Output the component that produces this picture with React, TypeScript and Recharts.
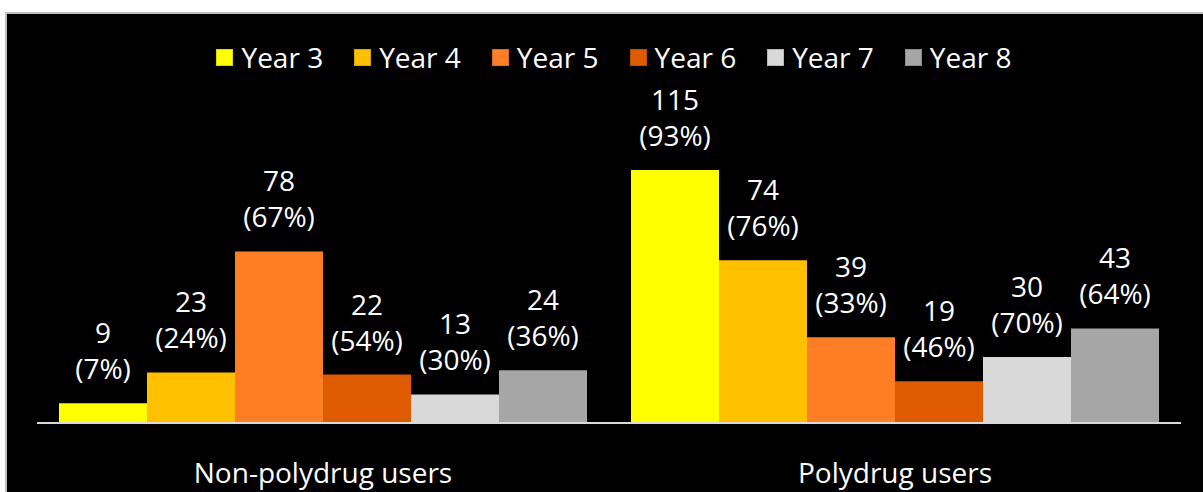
import React from 'react';
import { BarChart, Bar, XAxis, YAxis, Legend, LabelList } from 'recharts';

const categories = ['Non-polydrug users', 'Polydrug users'];
const seriesNames = ['Year 3', 'Year 4', 'Year 5', 'Year 6', 'Year 7', 'Year 8'];
const seriesColors = ['#FFFF00', '#FFC000', '#FD7E25', '#DE5B02', '#D9D9D9', '#A6A6A6'];

// counts per category, one array per year
const year3 = [9, 115];
const year4 = [23, 74];
const year5 = [78, 39];
const year6 = [22, 19];
const year7 = [13, 30];
const year8 = [24, 43];

// percentages per category
const year3Pct = [7, 93];
const year4Pct = [24, 76];
const year5Pct = [67, 33];
const year6Pct = [54, 46];
const year7Pct = [30, 70];
const year8Pct = [36, 64];

const counts = [year3, year4, year5, year6, year7, year8];
const pcts = [year3Pct, year4Pct, year5Pct, year6Pct, year7Pct, year8Pct];

const data = categories.map((category, i) => {
  const row: Record<string, string | number> = { category };
  seriesNames.forEach((_, s) => {
    row[`y${s}`] = counts[s][i];
    row[`p${s}`] = pcts[s][i];
  });
  return row;
});

const FONT = '"Open Sans", sans-serif';

const TwoLineLabel = (props: any) => {
  const { x, y, width, value } = props;
  const [n, p] = String(value).split('|');
  const cx = x + width / 2;
  return (
    <text x={cx} textAnchor="middle" fill="#ffffff" fontSize={28} fontFamily={FONT}>
      <tspan x={cx} y={y - 60}>{n}</tspan>
      <tspan x={cx} y={y - 24}>{`(${p}%)`}</tspan>
    </text>
  );
};

const CategoryTick = (props: any) => {
  const { x, y, payload } = props;
  return (
    <text x={x} y={y + 52} textAnchor="middle" fill="#ffffff" fontSize={28} fontFamily={FONT}>
      {payload.value}
    </text>
  );
};

const LegendContent = () => (
  <div
    style={{
      display: 'flex',
      justifyContent: 'center',
      alignItems: 'center',
      paddingLeft: 25,
      height: 30,
      fontFamily: FONT,
      fontSize: 28,
      color: '#ffffff',
    }}
  >
    {seriesNames.map((name, i) => (
      <div
        key={name}
        style={{ display: 'flex', alignItems: 'center', marginRight: i < seriesNames.length - 1 ? 31 : 0 }}
      >
        <span
          style={{
            display: 'inline-block',
            width: 17,
            height: 17,
            background: seriesColors[i],
            boxShadow: 'inset 0 0 0 1px rgba(0,0,0,0.15)',
            marginRight: 8,
          }}
        />
        <span style={{ lineHeight: '30px' }}>{name}</span>
      </div>
    ))}
  </div>
);

export default function App() {
  return (
    <div style={{ position: 'absolute', left: 0, top: 0, width: 1203, height: 492, background: '#ffffff', overflow: 'hidden' }}>
      <div
        style={{
          position: 'absolute',
          left: 5,
          top: 12,
          right: -4,
          bottom: -4,
          background: '#000000',
          border: '2px solid #c0c0c0',
        }}
      />
      <div style={{ position: 'absolute', left: 0, top: 0 }}>
        <BarChart
          width={1203}
          height={492}
          data={data}
          margin={{ top: 115, right: 22, left: 37, bottom: 0 }}
          barCategoryGap={22}
          barGap={0}
        >
          <XAxis
            dataKey="category"
            height={69}
            axisLine={{ stroke: '#d9d9d9', strokeWidth: 2 }}
            tickLine={false}
            tick={<CategoryTick />}
            interval={0}
          />
          <YAxis hide domain={[0, 140]} />
          <Legend
            layout="horizontal"
            verticalAlign="middle"
            align="center"
            content={<LegendContent />}
            wrapperStyle={{ top: 42, left: 0, width: 1203 }}
          />
          {seriesNames.map((name, s) => (
            <Bar
              key={name}
              name={name}
              dataKey={`y${s}`}
              fill={seriesColors[s]}
              isAnimationActive={false}
            >
              <LabelList
                dataKey={(d: any) => `${d[`y${s}`]}|${d[`p${s}`]}`}
                content={<TwoLineLabel />}
              />
            </Bar>
          ))}
        </BarChart>
      </div>
    </div>
  );
}
